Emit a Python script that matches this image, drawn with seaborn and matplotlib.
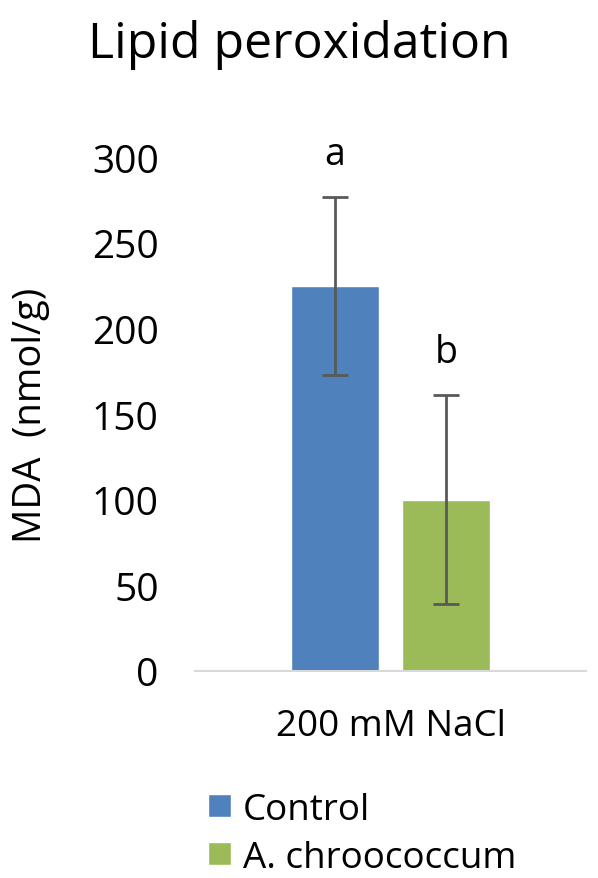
import pandas as pd
import matplotlib
matplotlib.use("Agg")
import matplotlib.pyplot as plt
import seaborn as sns

# values
conditions = ["200 mM NaCl", "200 mM NaCl"]
treatments = ["Control", "A. chroococcum"]
mda = [225, 100]
mda_err = [52, 61]
letters = ["a", "b"]
colors = ["#4F81BD", "#9BBB59"]

df = pd.DataFrame({"condition": conditions, "treatment": treatments, "mda": mda})

sns.set_theme(style="white")
plt.rcParams["font.family"] = ["Open Sans", "DejaVu Sans"]

fig = plt.figure(figsize=(5.98, 8.79), dpi=100)
ax = fig.add_axes([0.326, 0.2355, 0.654, 0.5845])

sns.barplot(data=df, x="condition", y="mda", hue="treatment",
            palette=colors, width=0.567, gap=0.213, errorbar=None,
            saturation=1, ax=ax, legend=True)

# error bars + significance letters on each bar
for patch, val, err, let in zip(ax.patches[:2], mda, mda_err, letters):
    cx = patch.get_x() + patch.get_width() / 2
    ax.errorbar(cx, val, yerr=err, color="#595959", capsize=9.5,
                capthick=2, elinewidth=2)
    ax.text(cx, val + err + 25, let, ha="center", va="center",
            fontsize=27, color="black")

ax.set_xlim(-0.5, 0.5)
ax.set_ylim(0, 300)
ax.set_yticks(range(0, 301, 50))
ax.tick_params(axis="y", length=0, pad=26, labelsize=28, labelcolor="black")
ax.tick_params(axis="x", length=0, pad=27, labelsize=26.5, labelcolor="black")
ax.set_xlabel("")
ax.set_ylabel("MDA  (nmol/g)", fontsize=27.5, color="black", labelpad=30)
for s in ["top", "right", "left"]:
    ax.spines[s].set_visible(False)
ax.spines["bottom"].set_color("#D9D9D9")
ax.spines["bottom"].set_linewidth(1.5)

fig.text(0.5, 0.949, "Lipid peroxidation", ha="center", va="center",
         fontsize=36, color="black")

handles, labels = ax.get_legend_handles_labels()
ax.legend_.remove()
fig.legend(handles, labels, loc="upper left", bbox_to_anchor=(0.324, 0.115),
           frameon=False, fontsize=26.5, handlelength=0.6, handleheight=0.6,
           handletextpad=0.33, labelspacing=0.33, borderaxespad=0,
           labelcolor="black")

fig.savefig("out.png", dpi=100)
